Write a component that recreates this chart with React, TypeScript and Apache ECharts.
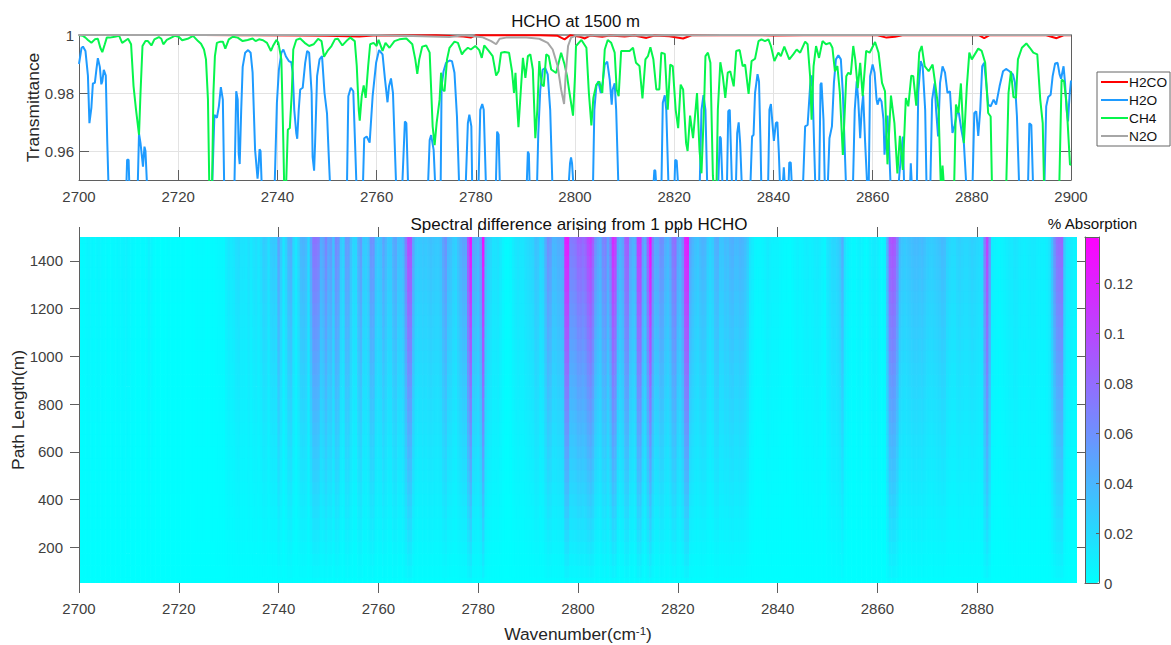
import React, { useEffect, useRef } from "react";
import * as echarts from "echarts";

const F = "'Liberation Sans', Arial, sans-serif";

const xTicksTop = [2700, 2720, 2740, 2760, 2780, 2800, 2820, 2840, 2860, 2880, 2900];
const xTicksBottom = [2700, 2720, 2740, 2760, 2780, 2800, 2820, 2840, 2860, 2880];
const yTicksTop = [0.96, 0.98, 1];
const yTicksBottom = [200, 400, 600, 800, 1000, 1200, 1400];
const colorTicks = [0, 0.02, 0.04, 0.06, 0.08, 0.1, 0.12];
const seriesNames = ["H2CO", "H2O", "CH4", "N2O"];

// [wavenumber, transmittance]; 0.945 = below the clipped bottom of the axes
const h2o = [
[2700,.99],[2700.5,.9955],[2700.8,.996],[2701.3,.9945],[2701.8,.986],[2702.1,.9696],[2702.5,.975],[2702.8,.9833],[2703.2,.9835],[2703.5,.988],[2703.8,.992],[2704.2,.989],[2704.5,.983],[2704.7,.984],[2705,.988],[2705.4,.986],[2705.7,.963],[2706,.945],
[2709.5,.945],[2709.7,.957],[2710,.957],[2710.2,.945],
[2711.8,.945],[2712.1,.966],[2712.4,.9627],[2712.9,.9546],[2713.2,.9615],[2713.4,.96],[2713.8,.945],
[2726.8,.945],[2727.3,.9725],[2727.8,.9714],[2728.2,.9754],[2728.6,.982],[2729,.9777],[2729.3,.945],
[2731.3,.945],[2731.7,.9806],[2732,.9777],[2732.2,.959],[2732.4,.9555],[2732.7,.974],[2733,.989],[2733.5,.9939],[2734.1,.9948],[2734.6,.9939],[2735,.987],[2735.5,.9604],[2736,.9505],[2736.2,.9546],[2736.4,.9606],[2736.6,.96],[2736.9,.945],
[2739.4,.945],[2739.9,.9766],[2740.3,.988],[2740.8,.9939],[2741.2,.995],[2741.7,.9927],[2742.3,.991],[2742.8,.9906],[2743.1,.987],[2743.4,.9742],[2743.8,.9662],[2744,.9642],[2744.3,.9742],[2744.6,.9812],[2745.1,.9818],[2745.6,.9904],[2746,.9945],[2746.4,.9939],[2746.9,.98],[2747.1,.958],[2747.4,.9532],[2747.6,.9627],[2748,.9858],[2748.5,.9916],[2749,.9927],[2749.5,.98],[2750,.973],[2750.3,.9604],[2750.7,.945],
[2754,.945],[2754.3,.9789],[2754.8,.9818],[2755.3,.9806],[2755.7,.9604],[2756,.945],
[2757.2,.945],[2757.5,.9644],[2758,.965],[2758.6,.9629],[2759.2,.9789],[2759.9,.9904],[2760.5,.9948],[2761.2,.9933],[2761.7,.9846],[2762.2,.9768],[2762.5,.9823],[2762.9,.985],[2763.3,.98],[2764,.945],
[2765.1,.945],[2765.7,.9702],[2766,.9696],[2766.4,.945],
[2770.3,.945],[2770.7,.9638],[2771,.9655],[2771.5,.9604],[2771.9,.945],
[2772.9,.945],[2773.1,.9823],[2773.5,.9875],[2774,.9904],[2774.7,.9912],[2775.2,.991],[2775.7,.987],[2776.2,.972],[2776.7,.945],
[2777.9,.945],[2778.4,.9696],[2778.7,.9725],[2779.1,.9685],[2779.3,.945],
[2780.5,.945],[2780.9,.9742],[2781.3,.9762],[2781.6,.9742],[2782.1,.945],
[2784,.945],[2784.3,.9667],[2784.6,.9656],[2784.9,.945],
[2790.2,.945],[2790.5,.9598],[2790.7,.959],[2790.9,.945],
[2792.3,.945],[2792.6,.9662],[2793,.9812],[2793.5,.9881],[2794,.9886],[2794.5,.9864],[2795,.9742],[2795.5,.945],
[2798.6,.945],[2799,.9558],[2799.2,.9578],[2799.4,.9558],[2799.8,.945],
[2803.6,.945],[2803.9,.9742],[2804.3,.9823],[2804.7,.984],[2805.2,.98],[2805.6,.984],[2806,.9898],[2806.5,.9908],[2807,.9846],[2807.4,.976],[2807.6,.9812],[2808,.9833],[2808.3,.9742],[2808.8,.945],
[2815.7,.945],[2816,.9534],[2816.2,.9532],[2816.5,.945],
[2817.4,.945],[2817.7,.9766],[2818.1,.9792],[2818.4,.9742],[2818.9,.945],
[2820,.945],[2820.2,.9569],[2820.5,.9567],[2820.9,.945],
[2825.1,.945],[2825.5,.9742],[2825.9,.9793],[2826.3,.9742],[2826.7,.945],
[2828.8,.945],[2829.2,.965],[2829.4,.9644],[2829.8,.945],
[2830.6,.945],[2830.9,.9737],[2831.2,.9742],[2831.7,.945],
[2832.4,.945],[2832.7,.9662],[2833,.9699],[2833.3,.9627],[2833.7,.945],
[2835.3,.945],[2835.7,.965],[2836,.9656],[2836.3,.98],[2836.8,.9865],[2837.1,.984],[2837.4,.9627],[2837.6,.945],
[2838.9,.945],[2839.2,.9742],[2839.5,.9762],[2839.8,.9696],[2840.1,.9635],[2840.5,.9696],[2840.8,.97],[2841.1,.9592],[2841.4,.945],
[2841.8,.945],[2842.1,.9544],[2842.4,.945],[2843,.945],[2843.2,.956],[2843.5,.956],[2843.8,.945],
[2845.9,.945],[2846.4,.9685],[2846.9,.969],[2847.4,.9823],[2847.7,.9861],[2847.9,.9812],[2848.2,.9627],[2848.5,.945],
[2849.2,.945],[2849.5,.9829],[2849.7,.9835],[2850.1,.9708],[2850.4,.945],
[2850.9,.945],[2851.3,.9644],[2851.8,.9685],[2852.2,.9835],[2852.6,.9916],[2853.1,.993],[2853.6,.9916],[2854,.98],[2854.7,.945],
[2856,.945],[2856.4,.9742],[2856.8,.984],[2857.1,.9777],[2857.5,.9644],[2857.8,.9742],[2858.1,.9794],[2858.5,.9627],[2859,.945],
[2859.2,.945],[2859.5,.9858],[2860,.9898],[2860.4,.987],[2860.8,.9777],[2861,.976],[2861.4,.9783],[2861.8,.9771],[2862.2,.9708],[2862.4,.9587],[2862.7,.965],[2863,.9722],[2863.3,.9627],[2863.7,.945],
[2865.1,.945],[2865.4,.952],[2866.1,.965],[2866.4,.945],
[2867.5,.945],[2867.7,.9558],[2868,.945],
[2868.9,.945],[2869.2,.98],[2869.7,.991],[2870.1,.9892],[2870.6,.9742],[2870.9,.945],
[2871.6,.945],[2872,.9777],[2872.5,.9833],[2872.8,.9742],[2873.2,.965],[2873.6,.9835],[2874.1,.9892],[2874.6,.987],[2875.1,.98],[2875.6,.9806],[2876.1,.9662],[2876.5,.9685],[2877,.9731],[2877.4,.9731],[2877.9,.9673],[2878.4,.9627],[2879,.945],
[2880.1,.945],[2880.5,.9731],[2880.9,.9737],[2881.3,.9652],[2881.7,.9742],[2882.1,.9892],[2882.5,.9904],[2882.9,.9835],[2883.3,.976],[2883.8,.9754],[2884.4,.9777],[2884.9,.976],[2885.6,.9823],[2886.3,.9875],[2886.9,.9883],[2887.6,.9875],[2888.3,.9864],[2888.7,.9835],[2889.1,.972],[2889.6,.945],
[2891.3,.945],[2891.6,.9696],[2892,.969],[2892.4,.945],
[2894.6,.945],[2895,.9754],[2895.4,.9786],[2895.9,.9794],[2896.3,.9858],[2896.8,.9902],[2897.3,.9904],[2897.7,.9864],[2898,.9849],[2898.5,.9892],[2898.8,.9835],[2899.1,.9742],[2899.4,.9702],[2899.7,.9789],[2900,.9843],
];

const ch4 = [
[2700,.9999],[2700.8,.9997],[2701.3,.9991],[2701.8,.9983],[2702.5,.9973],[2703.2,.9985],[2703.8,.9987],[2704.3,.9956],[2704.7,.9941],[2705.2,.9968],[2705.6,.9991],[2706.2,.9991],[2707.2,.9994],[2708.1,.9997],[2708.7,.9973],[2709.9,.9987],[2710.5,.9968],[2711,.9823],[2711.5,.9742],[2712.1,.9656],[2712.4,.98],[2712.8,.9962],[2713.4,.9979],[2713.9,.9979],[2714.6,.9964],[2715.2,.9985],[2716.1,.9993],[2716.6,.9987],[2717,.9968],[2717.7,.9983],[2718.6,.9991],[2719.3,.9997],[2720.1,.9994],[2720.8,.9982],[2721.9,.9987],[2723,.9997],[2724,.9979],[2724.6,.997],[2725.2,.995],[2725.6,.9916],[2726,.9777],[2726.3,.945],[2726.8,.945],[2727.1,.98],[2727.4,.9927],[2727.8,.9973],[2728.5,.9977],[2729,.9977],[2729.5,.9953],[2730.2,.9985],[2731,.9994],[2732,.9991],[2733,.9979],[2734,.9983],[2735,.9988],[2735.6,.9979],[2736.3,.9985],[2737.1,.9982],[2737.9,.9973],[2738.7,.9945],[2739.1,.9962],[2739.8,.9983],[2740.2,.9973],[2740.8,.9916],[2741.2,.9627],[2741.4,.945],[2741.7,.945],[2742.1,.9673],[2742.5,.9679],[2742.9,.98],[2743.2,.995],[2743.8,.9983],[2744.6,.9988],[2745.5,.9973],[2746.4,.9962],[2747.3,.9968],[2748.2,.9987],[2748.9,.9979],[2749.4,.9925],[2750.1,.9945],[2750.9,.9962],[2751.6,.9985],[2752.2,.9987],[2753.1,.9964],[2753.9,.9979],[2754.7,.9991],[2755.6,.9979],[2756,.9893],[2756.4,.9742],[2756.6,.9705],[2757,.9789],[2757.4,.9826],[2757.8,.9783],[2758.3,.9893],[2758.7,.9968],[2759.4,.9973],[2760,.9962],[2760.4,.9983],[2761.2,.9945],[2761.8,.9973],[2762.6,.9956],[2763.6,.9979],[2764.6,.9985],[2766,.9988],[2766.9,.9973],[2767.2,.9968],[2767.8,.9916],[2768.2,.9866],[2768.6,.9916],[2769.2,.996],[2770,.9964],[2770.7,.9939],[2771,.9812],[2771.3,.9685],[2771.7,.962],[2772.1,.9696],[2772.7,.9777],[2773,.987],[2773.3,.9812],[2773.7,.9806],[2774.2,.9916],[2774.7,.9956],[2775.7,.9977],[2776.4,.9973],[2777.2,.9933],[2777.7,.9945],[2778.4,.9956],[2779,.995],[2779.9,.9962],[2780.7,.9948],[2781.2,.9921],[2781.7,.9964],[2782.6,.9945],[2783.4,.9927],[2784.1,.986],[2784.6,.9875],[2785.1,.9939],[2785.8,.9941],[2786.7,.9939],[2787.3,.9875],[2787.7,.98],[2788,.987],[2788.3,.9766],[2788.6,.9682],[2789,.9789],[2789.5,.9921],[2790,.9852],[2790.5,.9927],[2791,.9933],[2791.5,.9881],[2792,.9644],[2792.4,.9742],[2792.8,.991],[2793.3,.9829],[2793.7,.9823],[2794.2,.9933],[2794.7,.9927],[2795.2,.9881],[2796.2,.9869],[2797.2,.9939],[2797.9,.9898],[2798.4,.9858],[2798.9,.98],[2799.6,.9722],[2800,.9858],[2800.2,.9962],[2801.3,.9983],[2802.3,.9956],[2802.8,.98],[2803.3,.9688],[2803.7,.9783],[2804.3,.9829],[2804.9,.984],[2805.5,.98],[2806,.995],[2806.6,.9983],[2807.3,.9973],[2808,.9939],[2808.4,.9812],[2808.8,.9789],[2809.3,.9945],[2810,.9945],[2811,.9945],[2811.7,.9956],[2812.3,.9904],[2813,.9893],[2813.6,.9781],[2814.2,.9916],[2814.7,.9927],[2815.2,.9958],[2815.8,.9916],[2816.4,.9812],[2817,.9812],[2817.4,.9939],[2818.1,.9935],[2818.7,.9742],[2819.2,.9898],[2819.7,.9893],[2820.3,.9742],[2820.8,.9679],[2821.3,.9829],[2821.8,.9812],[2822.4,.9627],[2822.7,.96],[2823.2,.9722],[2823.8,.9644],[2824.6,.98],[2825.1,.9604],[2825.5,.9523],[2826,.9742],[2826.3,.9927],[2826.8,.9939],[2827.3,.9904],[2827.8,.9515],[2828.1,.945],[2828.5,.945],[2828.8,.9742],[2829.3,.9906],[2829.8,.9858],[2830.3,.9783],[2830.8,.987],[2831.3,.9875],[2832,.9823],[2832.5,.9945],[2833.2,.9948],[2833.8,.9893],[2834.3,.9898],[2835,.9797],[2835.6,.991],[2836.3,.9918],[2837,.9979],[2837.6,.9985],[2838.3,.9979],[2839,.9985],[2839.5,.9962],[2840.2,.991],[2841,.9939],[2841.5,.9927],[2842.2,.996],[2843.2,.9916],[2844,.9933],[2844.7,.995],[2845.4,.9939],[2846.4,.9977],[2846.9,.9968],[2847.4,.9858],[2847.7,.9708],[2848.1,.9893],[2848.6,.9962],[2849.2,.9921],[2849.9,.9979],[2850.6,.9968],[2851.4,.9973],[2851.9,.9956],[2852.4,.9875],[2852.9,.9893],[2853.4,.98],[2854,.9586],[2854.7,.9858],[2855.1,.987],[2855.6,.9864],[2856.1,.9962],[2856.5,.9916],[2857,.9817],[2857.5,.9904],[2858,.9789],[2858.7,.9945],[2859.4,.9939],[2860.5,.9976],[2861.2,.9939],[2861.9,.9835],[2862.5,.9806],[2863,.9554],[2863.7,.9791],[2864.4,.9696],[2865,.9523],[2865.5,.9652],[2866.1,.9535],[2866.7,.9783],[2867.2,.9754],[2867.8,.986],[2868.2,.9858],[2868.8,.9756],[2869.4,.9939],[2869.9,.9962],[2870.5,.9893],[2871.3,.9875],[2872.1,.9898],[2872.6,.9835],[2873.3,.9742],[2873.8,.945],[2874.1,.955],[2874.5,.945],[2876.4,.945],[2876.8,.976],[2877.3,.9731],[2877.8,.9833],[2878.4,.9627],[2879,.9823],[2879.5,.9939],[2880,.9916],[2881.3,.9953],[2882,.9945],[2882.7,.9904],[2883.3,.9731],[2883.8,.9719],[2884.1,.945],[2886.9,.945],[2887.4,.98],[2887.9,.9875],[2888.4,.9786],[2888.9,.9783],[2889.3,.9916],[2890.1,.9956],[2891,.9971],[2891.7,.9956],[2892.4,.9939],[2893.2,.9933],[2893.8,.9777],[2894.3,.9696],[2894.6,.945],[2897.6,.945],[2898.1,.9846],[2898.6,.984],[2899.1,.9766],[2899.8,.9552],[2900,.9555],
];

const h2co = [
[2700,1],[2725,1],[2733,.9999],[2745,.9998],[2750,.9997],[2756.5,.9995],[2760,.9999],[2766,.9998],[2772,.9999],[2777.5,.9995],[2779,.9991],[2780,.9999],[2786,.9999],[2793,.9999],[2796.5,.9997],[2797.9,.9985],[2799,.9999],[2801,.9994],[2802,.9988],[2803,.9998],[2805.5,.9994],[2807,.9998],[2810,.9995],[2812,.9998],[2814.4,.999],[2816,.9998],[2819,.9996],[2821.8,.9988],[2823.5,.9999],[2830,.9999],[2836,1],[2840,.9998],[2846,.9999],[2855,.9999],[2861,.9999],[2862.8,.9991],[2864.5,.9994],[2866,.9999],[2875,.9999],[2881.5,.9999],[2882.5,.9989],[2883.5,.9999],[2895,.9999],[2897.1,.9989],[2898.5,.9999],[2900,.9999],
];

const n2o = [
[2700,1],[2760,1],[2774.7,.9993],[2777.5,.9999],[2781.4,.9992],[2783.1,.9979],[2784.1,.9968],[2784.8,.9987],[2786.1,.9991],[2790.2,.9991],[2792.8,.9987],[2794.5,.9973],[2795.5,.995],[2796.5,.9893],[2797.2,.9812],[2797.8,.9762],[2798.1,.9858],[2798.6,.9962],[2799.2,.9991],[2800.2,.9998],[2815,.9998],[2830,1],[2900,1],
];

const pathLengths = [50,100,150,200,250,300,350,400,450,500,550,600,650,700,750,800,850,900,950,1000,1050,1100,1150,1200,1250,1300,1350,1400,1450,1500];

// % absorption ×1000 at 1500 m, one value per 0.5 cm-1 starting at 2700
const topA2700 = [
2,3,3,5,6,5,4,5,6,4, 3,3,2,3,4,4,5,6,7,8, 6,4,3,2,2,3,3,4,8,5, 2,1,1,0,1,1,2,1,1,1,
1,1,1,0,0,1,1,2,2,2, 2,1,1,2,2,3,4,4,4,10, 14,12,14,18,20,15,15,14,18,12, 16,18,14,20,28,26,18,28,30,28,
52,30,14,25,42,45,22,14,25,40, 42,38,22,50,76,76,72,45,50,68,
];
const topA2750 = [
50,55,35,65,60,30,25,55,55,35, 22,22,45,55,30,28,35,60,60,35, 30,35,50,40,30,30,45,50,35,35,
40,70,100,95,50,32,30,30,32,30, 32,35,32,30,30,35,50,60,40,35, 28,25,35,45,50,50,95,130,50,45,
40,60,130,40,28,22,16,16,18,12, 6,3,3,5,10,14,16,14,14,18, 20,22,24,34,32,22,25,45,62,55,
40,40,45,45,50,120,125,70,72,75,
];
const topA2800 = [
85,85,80,85,100,108,90,60,50,45, 65,70,50,70,115,105,50,42,50,85, 90,50,42,45,105,110,55,45,90,135,
70,48,50,62,60,45,40,50,75,80, 50,45,65,118,125,50,40,35,32,38, 42,40,28,24,28,42,45,32,32,38,
36,42,44,38,38,42,40,36,28,15, 10,6,5,5,6,8,11,9,7,7, 7,5,4,3,3,2,4,6,8,6,
7,9,10,8,9,11,12,10,7,5,
];
const topA2850 = [
15,18,22,22,25,30,45,18,10,6, 4,4,6,8,6,3,4,8,10,12, 10,6,4,8,45,90,95,90,70,38,
32,30,32,34,36,38,38,36,38,34, 30,28,28,30,32,34,38,36,26,22, 20,20,24,26,24,22,22,24,26,24,
22,20,22,70,105,60,10,7,6,5, 6,8,10,12,12,15,14,11,10,9, 10,11,12,12,10,9,8,8,10,15,
35,60,78,82,85,30,15,12,10,7, 6,
];

const topAbsorption = [...topA2700, ...topA2750, ...topA2800, ...topA2850];
const columnStep = 0.5;
const rowStep = 50;
const heatRows: number[][] = [];
topAbsorption.forEach((milli, i) => {
  pathLengths.forEach((p) => {
    heatRows.push([2700 + i * columnStep, p, (milli / 1000) * (p / 1500)]);
  });
});

const AXIS = "#5f5f5f";
const TICKTXT = { color: "#404040", fontSize: 15, fontFamily: F };

function fixedX(gridIndex: number, position: string, min: number, max: number, ticks: number[], opts: any) {
  return {
    type: "value", gridIndex, position, min, max, silent: true,
    splitLine: { show: false },
    axisLine: { show: true, onZero: false, lineStyle: { color: AXIS, width: 1 } },
    axisTick: { show: true, customValues: ticks, length: 10, inside: true, lineStyle: { color: AXIS } },
    axisLabel: { show: false, customValues: ticks },
    ...opts,
  };
}

export default function App() {
  const ref = useRef<HTMLDivElement>(null);
  useEffect(() => {
    document.body.style.margin = "0";
    const chart = echarts.init(ref.current!, null, { renderer: "svg" });
    const lineSeries = (name: string, data: number[][], color: string) => ({
      name, type: "line", data, xAxisIndex: 0, yAxisIndex: 0, showSymbol: false, symbol: "none",
      clip: true, smooth: false, silent: true, lineStyle: { color, width: 2 }, itemStyle: { color },
    });
    const grayGrid = { show: true, lineStyle: { color: "#e3e3e3", width: 1 } };
    chart.setOption({
      animation: false,
      backgroundColor: "#ffffff",
      title: [
        { text: "HCHO at 1500 m", left: 570.5, top: 8, textAlign: "center", textStyle: { fontSize: 16.8, fontWeight: "normal", color: "#111", fontFamily: F } },
        { text: "Spectral difference arising from 1 ppb HCHO", left: 574, top: 211, textAlign: "center", textStyle: { fontSize: 17, fontWeight: "normal", color: "#111", fontFamily: F } },
        { text: "% Absorption", left: 1087.5, top: 211, textAlign: "center", textStyle: { fontSize: 15.2, fontWeight: "normal", color: "#111", fontFamily: F } },
      ],
      legend: {
        show: true, orient: "vertical", left: 1097, top: 72, data: seriesNames,
        itemWidth: 27, itemHeight: 14, itemGap: 4, itemTextGap: 0, padding: 3,
        borderColor: "#666", borderWidth: 1, backgroundColor: "#fff",
        itemStyle: { opacity: 0 },
        textStyle: { fontSize: 13.7, color: "#111", fontFamily: F, padding: [0, 0, 0, -4] },
      },
      grid: [
        { left: 79, top: 35, width: 992, height: 145, outerBoundsMode: "none" },
        { left: 79, top: 237, width: 998, height: 346, outerBoundsMode: "none" },
        { left: 1085, top: 237, width: 14, height: 346, outerBoundsMode: "none" },
      ],
      visualMap: {
        type: "continuous", seriesIndex: 4, dimension: 2, min: 0, max: 0.1384,
        left: 1085, top: 237, itemWidth: 14, itemHeight: 346, padding: 0,
        text: null, calculable: false, hoverLink: false, realtime: false,
        inRange: { color: ["#00ffff", "#ff00ff"] },
        textStyle: { fontSize: 1, color: "rgba(0,0,0,0)" },
      },
      xAxis: [
        fixedX(0, "bottom", 2700, 2900, xTicksTop, {
          axisLabel: { show: true, customValues: xTicksTop, margin: 9, ...TICKTXT, formatter: (v: number) => String(v) },
          splitLine: grayGrid,
        }),
        fixedX(0, "top", 2700, 2900, xTicksTop, { z: 3, axisLine: { show: true, onZero: false, lineStyle: { color: "#9a9a9a", width: 2 } } }),
        fixedX(1, "bottom", 2700, 2900, xTicksBottom, {
          axisLine: { show: false },
          axisTick: { show: true, customValues: xTicksBottom, length: 10, inside: false, lineStyle: { color: AXIS } },
          axisLabel: { show: true, customValues: xTicksBottom, margin: 18, ...TICKTXT, formatter: (v: number) => String(v) },
          name: "Wavenumber(cm{sup|-1}{n|)}", nameLocation: "middle", nameGap: 42, nameMoveOverlap: false,
          nameTextStyle: {
            fontSize: 17.4, color: "#262626", fontFamily: F,
            rich: {
              sup: { fontSize: 11.5, verticalAlign: "top", color: "#262626", fontFamily: F },
              n: { fontSize: 17.4, color: "#262626", fontFamily: F },
            },
          },
        }),
        fixedX(1, "top", 2700, 2900, xTicksBottom, {
          axisLine: { show: false },
          axisTick: { show: true, customValues: xTicksBottom, length: 10, inside: false, lineStyle: { color: AXIS } },
        }),
        fixedX(2, "bottom", 0, 1, [], { z: 6, axisTick: { show: false }, axisLine: { show: true, onZero: false, lineStyle: { color: AXIS } } }),
        fixedX(2, "top", 0, 1, [], { z: 6, axisTick: { show: false }, axisLine: { show: true, onZero: false, lineStyle: { color: AXIS } } }),
      ],
      yAxis: [
        fixedX(0, "left", 0.95, 1, yTicksTop, {
          axisLabel: { show: true, customValues: yTicksTop, margin: 5, ...TICKTXT, formatter: (v: number) => String(v) },
          splitLine: grayGrid,
          name: "Transmittance", nameLocation: "middle", nameGap: 38, nameMoveOverlap: false,
          nameTextStyle: { fontSize: 17.4, color: "#262626", fontFamily: F },
        }),
        fixedX(0, "right", 0.95, 1, yTicksTop, {}),
        fixedX(1, "left", 50, 1500, yTicksBottom, {
          axisTick: { show: true, customValues: yTicksBottom, length: 9, inside: false, lineStyle: { color: AXIS } },
          axisLabel: { show: true, customValues: yTicksBottom, margin: 16, ...TICKTXT, formatter: (v: number) => String(v) },
          name: "Path Length(m)", nameLocation: "middle", nameGap: 53, nameMoveOverlap: false,
          nameTextStyle: { fontSize: 17.4, color: "#262626", fontFamily: F },
          z: 5,
        }),
        fixedX(1, "right", 50, 1500, yTicksBottom, {
          axisLine: { show: false },
          axisTick: { show: true, customValues: yTicksBottom, length: 8, inside: false, lineStyle: { color: AXIS } },
        }),
        fixedX(2, "right", 0, 0.1384, colorTicks, {
          z: 6,
          axisTick: { show: true, customValues: colorTicks, length: 3, inside: true, lineStyle: { color: AXIS } },
          axisLabel: { show: true, customValues: colorTicks, margin: 5, ...TICKTXT, formatter: (v: number) => String(v) },
        }),
        fixedX(2, "left", 0, 0.1384, [], { z: 6, axisTick: { show: false } }),
      ],
      series: [
        lineSeries("H2CO", h2co, "#ff0000"),
        lineSeries("H2O", h2o, "#1e9bff"),
        lineSeries("CH4", ch4, "#06f54c"),
        lineSeries("N2O", n2o, "#a6a6a6"),
        {
          type: "custom", xAxisIndex: 2, yAxisIndex: 2, data: heatRows, clip: true, silent: true,
          encode: { x: 0, y: 1 }, dimensions: ["wn", "path", "abs"],
          renderItem: (_p: any, api: any) => {
            const wn = api.value(0);
            const p = api.value(1);
            const a = api.coord([Math.max(wn - columnStep / 2, 2700), Math.min(p + rowStep / 2, 1500)]);
            const b = api.coord([Math.min(wn + columnStep / 2, 2900), Math.max(p - rowStep / 2, 50)]);
            const overlapX = wn + columnStep / 2 >= 2900 ? 0 : 0.7;
            const overlapY = p - rowStep / 2 <= 50 ? 0 : 0.7;
            return {
              type: "rect",
              shape: { x: a[0], y: a[1], width: b[0] - a[0] + overlapX, height: b[1] - a[1] + overlapY },
              style: { fill: api.visual("color") },
            };
          },
        },
      ],
    });
    return () => chart.dispose();
  }, []);
  return <div ref={ref} style={{ position: "absolute", left: 0, top: 0, width: 1171, height: 645 }} />;
}
